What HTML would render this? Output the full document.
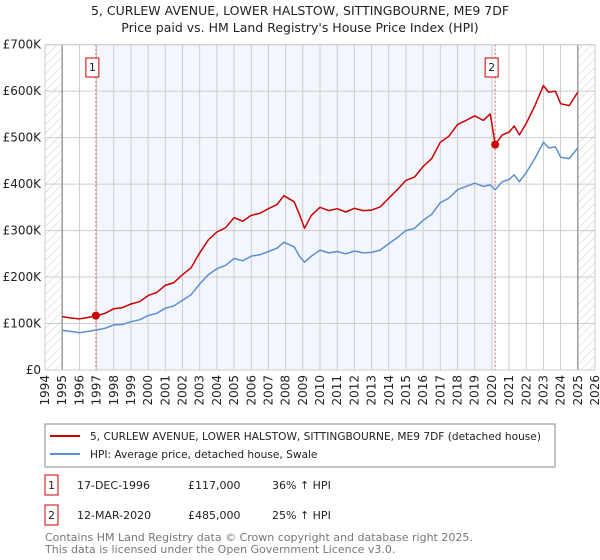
<!DOCTYPE html>
<html><head><meta charset="utf-8"><style>
body{margin:0;background:#fff;font-family:"DejaVu Sans","Liberation Sans",sans-serif;}
svg{display:block}
</style></head><body>
<svg id="chart" width="600" height="560" xmlns="http://www.w3.org/2000/svg">
<defs><pattern id="hatch" width="6" height="6" patternUnits="userSpaceOnUse" patternTransform="rotate(45)"><line x1="0" y1="0" x2="0" y2="6" stroke="#ccc" stroke-width="1"/></pattern></defs>
<text x="300" y="15" text-anchor="middle" font-size="12.5" fill="#222">5, CURLEW AVENUE, LOWER HALSTOW, SITTINGBOURNE, ME9 7DF</text>
<text x="300" y="32" text-anchor="middle" font-size="12.5" fill="#222">Price paid vs. HM Land Registry's House Price Index (HPI)</text>
<g id="plot"></g>
<rect x="45" y="424" width="510" height="43" fill="#fff" stroke="#888"/>
<line x1="50" y1="436" x2="80" y2="436" stroke="#cc0000" stroke-width="2"/>
<text x="90" y="440" font-size="10.6" fill="#222">5, CURLEW AVENUE, LOWER HALSTOW, SITTINGBOURNE, ME9 7DF (detached house)</text>
<line x1="50" y1="454" x2="80" y2="454" stroke="#5b8fd4" stroke-width="2"/>
<text x="90" y="458" font-size="10.6" fill="#222">HPI: Average price, detached house, Swale</text>
<g font-size="11" fill="#222">
<rect x="45" y="475" width="13" height="20" fill="#fff" stroke="#cc0000"/>
<text x="51.5" y="489" text-anchor="middle">1</text>
<text x="77" y="489">17-DEC-1996</text>
<text x="188" y="489">£117,000</text>
<text x="272" y="489">36% ↑ HPI</text>
<rect x="45" y="505" width="13" height="20" fill="#fff" stroke="#cc0000"/>
<text x="51.5" y="519" text-anchor="middle">2</text>
<text x="77" y="519">12-MAR-2020</text>
<text x="188" y="519">£485,000</text>
<text x="272" y="519">25% ↑ HPI</text>
</g>
<text x="45" y="541" font-size="11" fill="#777">Contains HM Land Registry data © Crown copyright and database right 2025.</text>
<text x="45" y="553" font-size="11" fill="#777">This data is licensed under the Open Government Licence v3.0.</text>
</svg>
<script>
const yTicks=[0,100,200,300,400,500,600,700];
const yTickLabels=["£0","£100K","£200K","£300K","£400K","£500K","£600K","£700K"];
const xYears=[1994,1995,1996,1997,1998,1999,2000,2001,2002,2003,2004,2005,2006,2007,2008,2009,2010,2011,2012,2013,2014,2015,2016,2017,2018,2019,2020,2021,2022,2023,2024,2025,2026];
const hpiDates=[1995,1995.5,1996,1996.5,1997,1997.5,1998,1998.5,1999,1999.5,2000,2000.5,2001,2001.5,2002,2002.5,2003,2003.5,2004,2004.5,2005,2005.5,2006,2006.5,2007,2007.5,2007.9,2008.5,2008.8,2009.1,2009.5,2010,2010.5,2011,2011.5,2012,2012.5,2013,2013.5,2014,2014.5,2015,2015.5,2016,2016.5,2017,2017.5,2018,2018.5,2019,2019.5,2019.9,2020.2,2020.6,2021,2021.3,2021.6,2022,2022.5,2023,2023.3,2023.7,2024,2024.5,2025];
const hpiValues=[85,83,80,83,86,90,97,98,104,108,117,122,133,138,150,162,185,205,218,225,240,235,245,248,255,262,275,265,245,232,245,258,252,255,250,256,252,253,258,272,285,300,305,322,335,360,370,388,395,402,395,398,388,405,410,420,405,425,455,490,478,480,458,455,478];
const propValues=[115,112,110,113,117,122,132,134,142,147,160,167,182,188,205,220,252,280,297,306,328,320,333,337,347,356,375,362,335,305,333,350,343,347,340,348,343,344,351,370,388,408,415,438,455,490,503,528,537,547,537,551,485,506,512,525,506,531,568,612,598,600,573,569,598];
const saleDates=[1996.96,2020.19];
const salePrices=[117,485];
const saleLabels=["1","2"];

const L=45,R=595,T=44.7,B=370;
const x=v=>L+(v-1994)/32*(R-L);
const y=v=>B-v/700*(B-T);
const NS="http://www.w3.org/2000/svg";
const g=document.getElementById('plot');
function mk(tag,attrs){const e=document.createElementNS(NS,tag);for(const k in attrs)e.setAttribute(k,attrs[k]);g.appendChild(e);return e;}

let e=mk('rect',{x:x(saleDates[0]),y:T,width:x(saleDates[1])-x(saleDates[0]),height:B-T,fill:'#eef3fc',opacity:0.7});


e=mk('rect',{x:L,y:T,width:x(1995)-L,height:B-T,fill:'url(#hatch)'});


e=mk('rect',{x:x(2025),y:T,width:R-x(2025),height:B-T,fill:'url(#hatch)'});



yTicks.forEach((t,i)=>{
  let l=mk('line',{x1:L,x2:R,y1:y(t),y2:y(t),stroke:'#ccc','stroke-width':1});
  
  
  let tx=mk('text',{x:L-4,y:y(t)+4,'text-anchor':'end','font-size':12,fill:'#222'});
  tx.textContent=yTickLabels[i];
  
  
});
xYears.forEach(yr=>{
  let l=mk('line',{x1:x(yr),x2:x(yr),y1:T,y2:B,stroke:'#ccc','stroke-width':1});
  
  
  let tx=mk('text',{x:0,y:0,'text-anchor':'end','font-size':12,fill:'#222',transform:`translate(${x(yr)+4},${B+5}) rotate(-90)`});
  tx.textContent=yr;
  
  
});
[1995,2025].forEach(yr=>{
  let l=mk('line',{x1:x(yr),x2:x(yr),y1:T,y2:B,stroke:'#888','stroke-width':1.2});
  
  
});
saleDates.forEach((d,i)=>{
  let l=mk('line',{x1:x(d),x2:x(d),y1:T,y2:B,stroke:'#e06060','stroke-width':1,'stroke-dasharray':'2,2'});
  
  
});
function path(vals,col,name){
  const d=hpiDates.map((t,i)=>(i?'L':'M')+x(t).toFixed(1)+','+y(vals[i]).toFixed(1)).join('');
  const p=mk('path',{d:d,fill:'none',stroke:col,'stroke-width':1.5,'stroke-linejoin':'round'});
  
  
}
path(hpiValues,'#5b8fd4','hpi-line');
path(propValues,'#cc0000','property-price-line');
saleDates.forEach((d,i)=>{
  let c=mk('circle',{cx:x(d),cy:y(salePrices[i]),r:4,fill:'#cc0000'});
  
  
  let bx=x(d)-10;
  let r=mk('rect',{x:bx,y:58,width:13,height:19,fill:'#fff',stroke:'#cc0000'});
  
  
  let t=mk('text',{x:bx+6.5,y:71,'text-anchor':'middle','font-size':11,fill:'#222'});
  t.textContent=saleLabels[i];
  
  
});
e=mk('rect',{x:L,y:T,width:R-L,height:B-T,fill:'none',stroke:'#ccc'});


</script>
</body></html>
